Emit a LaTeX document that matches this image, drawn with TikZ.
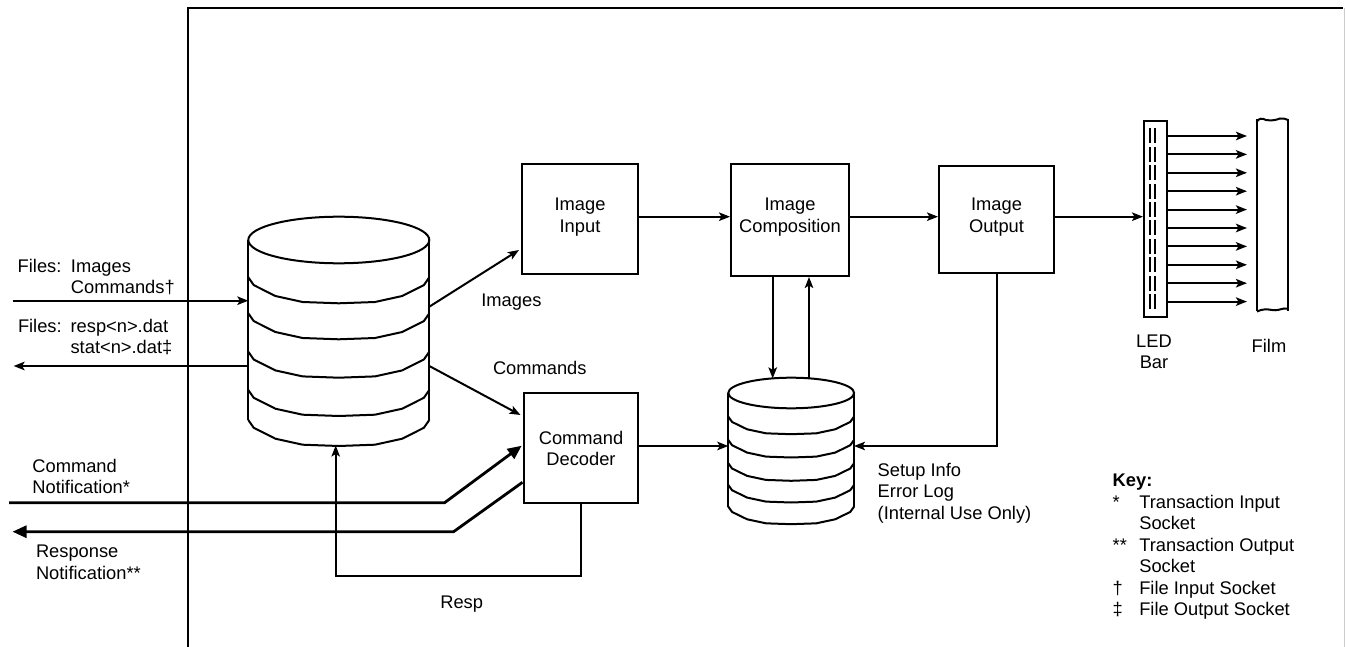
\documentclass[tikz,border=0pt]{standalone}
\usepackage{fontspec}
\setmainfont{Liberation Sans}
\usetikzlibrary{arrows.meta}
\newcommand\dbband[4]{%
 \draw[line join=round] (#1,#3) -- ({#1+0.03*(#2-#1)},{#3+0.3*#4}) -- ({#1+0.15*(#2-#1)},{#3+0.72*#4}) -- ({#1+0.3*(#2-#1)},{#3+0.95*#4}) -- ({#1+0.5*(#2-#1)},{#3+#4}) -- ({#1+0.7*(#2-#1)},{#3+0.95*#4}) -- ({#1+0.85*(#2-#1)},{#3+0.72*#4}) -- ({#1+0.97*(#2-#1)},{#3+0.3*#4}) -- (#2,#3);}
\begin{document}
\begin{tikzpicture}[x=1pt,y=-1pt,line width=2pt,
  every node/.style={font=\fontsize{18.3}{21.5}\selectfont, inner sep=0pt},
  arr/.style={-{Stealth[length=11pt,width=8.5pt,inset=2.5pt]}},
  bigarr/.style={line width=2.8pt,line join=round,-{Triangle[length=14pt,width=12pt]}},
  procbox/.style={draw, rectangle}]
\useasboundingbox (0,0) rectangle (1345,647);
% frame
\draw (188,647) -- (188,8) -- (1343,8);
\draw[gray!40, line width=1pt] (1344,8) -- (1344,647);

% process boxes
\node[procbox, minimum width=116pt, minimum height=110pt] (ii) at (580,219) {};
\node[procbox, minimum width=118pt, minimum height=112pt] (ic) at (790,220) {};
\node[procbox, minimum width=115pt, minimum height=107pt] (io) at (996.5,219.4) {};
\node[procbox, minimum width=114pt, minimum height=110pt] (cd) at (581,448.3) {};
\node[anchor=north, align=center] (iit) at (580,197) {Image\\Input};
\node[anchor=north, align=center] (ict) at (790,197) {Image\\Composition};
\node[anchor=north, align=center] (iot) at (996.5,197) {Image\\Output};
\node[anchor=north, align=center] (cdt) at (581,430) {Command\\Decoder};

% LED bar
\node[procbox, minimum width=23pt, minimum height=196pt] (led) at (1155.5,219) {};
\foreach \i in {0,...,9} {
  \draw[line width=1.8pt] (1150.2,{128.5+18.4*\i}) -- ++(0,15);
  \draw[line width=1.8pt] (1155.3,{128.5+18.4*\i}) -- ++(0,15);
}
% film
\node[minimum width=28.7pt, minimum height=190pt] (film) at (1272.3,215) {};
\draw (film.north west) -- (film.south west);
\draw (film.north east) -- (film.south east);
\draw (1256.5,122) .. controls (1259,118) and (1262,118) .. (1266,120) .. controls (1272,121) and (1276,120) .. (1280,118.5) .. controls (1283,118) and (1286,119) .. (1288,120);
\draw (1257,311.5) .. controls (1262,309) and (1267,309) .. (1272,310) .. controls (1277,311) and (1280,309) .. (1284,308.5) .. controls (1286,308.5) and (1287.5,308.5) .. (1288,309);
\node[anchor=north, align=center] (ledt) at (1154,333.7) {LED\\Bar};
\node[anchor=north] (filmt) at (1269,338) {Film};

% big cylinder
\draw (248.3,240) -- (248.3,420);
\draw (429.3,240) -- (429.3,420);
\draw (338.8,240) ellipse [x radius=90.5pt, y radius=23.3pt];
\foreach \yy in {277.3,313.3,351.7,390,420} {\dbband{248.3}{429.3}{\yy}{26}}

% small cylinder
\draw (728.3,393) -- (728.3,506.7);
\draw (854,393) -- (854,506.7);
\draw (791.2,393) ellipse [x radius=62.9pt, y radius=15.3pt];
\foreach \yy in {416.7,440,463.3,485,506.7} {\dbband{728.3}{854}{\yy}{17.5}}

% named coordinates
\coordinate (r1) at (0,216.7);
\coordinate (r2) at (0,446);
\coordinate (rb) at (0,575.7);
\coordinate (inL) at (12.5,300.7);
\coordinate (bigW1) at (248.3,300.7);
\coordinate (bigW2) at (248.3,366);
\coordinate (outL) at (13.6,366);
\coordinate (bigE1) at (429.3,306.7);
\coordinate (bigE2) at (429.3,366);
\coordinate (bigS) at (335.7,445.5);
\coordinate (imgtip) at (519,250);
\coordinate (cmdtip) at (520.5,415);
\coordinate (smdn) at (772.7,378.4);
\coordinate (smup) at (809,378.3);
\coordinate (smW) at (728.3,446);
\coordinate (smE) at (854,446);
\coordinate (cnL) at (9,502.7);
\coordinate (cnK) at (444.6,502.7);
\coordinate (cntip) at (521.7,445.7);
\coordinate (rsS) at (522.5,482.3);
\coordinate (rsK) at (453.6,531.7);
\coordinate (rsL) at (12.5,531.7);

% connectors
\draw[arr] (inL) -- (bigW1);
\draw[arr] (bigW2) -- (outL);
\draw[arr] (bigE1) -- (imgtip);
\draw[arr] (bigE2) -- (cmdtip);
\draw[arr] (ii.east |- r1) -- (ic.west |- r1);
\draw[arr] (ic.east |- r1) -- (io.west |- r1);
\draw[arr] (io.east |- r1) -- (led.west |- r1);
\foreach \i in {0,...,9} {
  \path (0,{136+18.4*\i}) coordinate (row);
  \draw[arr] (led.east |- row) -- ([xshift=-10pt]film.west |- row);
}
\draw[arr] (ic.south -| smdn) -- (smdn);
\draw[arr] (smup) -- (ic.south -| smup);
\draw[arr] (cd.east |- r2) -- (smW);
\draw[arr] (io.south) |- (smE);
\draw[arr] (cd.south) -- (cd.south |- rb) -| (bigS);
\draw[bigarr] (cnL) -- (cnK) -- (cntip);
\draw[bigarr] (rsS) -- (rsK) -- (rsL);

% labels
\node[anchor=north west, align=left] (t1) at (16.7,258) {\makebox[53.3pt][l]{Files:}Images\\\hspace*{53.3pt}Commands†};
\node[anchor=north west, align=left] (t2) at (17,318) {\makebox[52.6pt][l]{Files:}resp<n>.dat\\\hspace*{52.6pt}stat<n>.dat‡};
\node[anchor=north west, align=left] (t3) at (31.4,458) {Command\\Notification*};
\node[anchor=north west, align=left] (t4) at (35,544) {Response\\Notification**};
\node[anchor=north west] (t5) at (480.4,293) {Images};
\node[anchor=north west] (t6) at (492,360) {Commands};
\node[anchor=north] (t7) at (461.7,595) {Resp};
\node[anchor=north west, align=left] (t10) at (876.7,462) {Setup Info\\Error Log\\(Internal Use Only)};
\node[anchor=north west, align=left] (key) at (1111.7,473) {\textbf{Key:}\\\makebox[26.6pt][l]{*}Transaction Input\\\hspace*{26.6pt}Socket\\\makebox[26.6pt][l]{**}Transaction Output\\\hspace*{26.6pt}Socket\\\makebox[26.6pt][l]{†}File Input Socket\\\makebox[26.6pt][l]{‡}File Output Socket};
\end{tikzpicture}
\end{document}
